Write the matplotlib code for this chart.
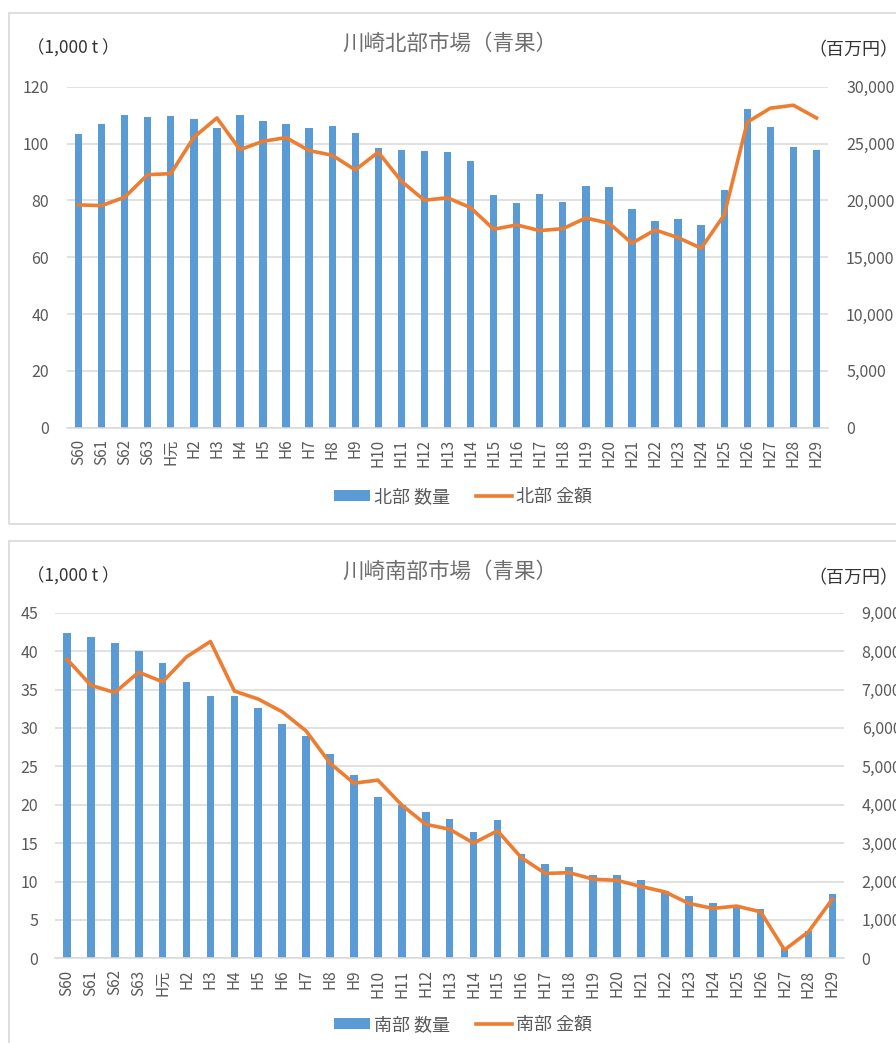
import matplotlib
matplotlib.use("Agg")
import matplotlib.pyplot as plt
from matplotlib.patches import Rectangle
from matplotlib.ticker import FuncFormatter

plt.rcParams['font.family'] = ['Noto Sans CJK JP', 'DejaVu Sans']

years = ["S60", "S61", "S62", "S63", "H元"] + [f"H{i}" for i in range(2, 30)]

# 北部 (north) market
north_qty = [103.3, 106.8, 110.0, 109.2, 109.8, 108.6, 105.4, 110.0, 108.0, 106.8,
             105.4, 106.0, 103.7, 98.4, 97.6, 97.3, 97.0, 93.8, 81.9, 79.0,
             82.2, 79.6, 85.1, 84.8, 76.9, 72.7, 73.5, 71.2, 83.6, 112.1,
             105.7, 98.7, 97.6]
north_amt = [19600, 19540, 20280, 22260, 22350, 25550, 27250, 24460, 25200, 25520,
             24380, 23970, 22680, 24240, 21680, 20010, 20230, 19360, 17460, 17840,
             17340, 17510, 18450, 17990, 16230, 17400, 16720, 15790, 18720, 26880,
             28110, 28370, 27250]

# 南部 (south) market
south_qty = [42.4, 41.8, 41.1, 40.0, 38.4, 36.0, 34.2, 34.2, 32.6, 30.5,
             28.9, 26.6, 23.9, 21.0, 20.0, 19.05, 18.2, 16.5, 18.0, 13.6,
             12.3, 11.85, 10.8, 10.8, 10.2, 8.8, 8.1, 7.25, 6.8, 6.4,
             1.3, 3.5, 8.4]
south_amt = [7790, 7110, 6920, 7450, 7200, 7850, 8250, 6960, 6750, 6420,
             5920, 5080, 4560, 4640, 3990, 3490, 3360, 3000, 3320, 2620,
             2210, 2230, 2060, 2030, 1870, 1730, 1430, 1300, 1360, 1210,
             220, 690, 1540]

BAR = '#5B9BD5'
LINE = '#ED7D31'
GRID = '#D9D9D9'
TXT = '#595959'

W, H = 896, 1043
fig = plt.figure(figsize=(W / 100, H / 100), dpi=100)


def fx(px):
    return px / W


def fy(py):
    return 1 - py / H


# chart borders
for top, bot in [(12.7, 524.3), (541.3, 1060)]:
    fig.patches.append(Rectangle((fx(8.7), fy(bot)), fx(900) - fx(8.7), fy(top) - fy(bot),
                                 transform=fig.transFigure, fill=False,
                                 edgecolor='#D9D9D9', linewidth=1.2))


def draw(box, qty, amt, ymax, ystep, rmax, rstep, title, rname, title_y,
         lab_pad, rpad, leg_y):
    l, r, t, b = box
    ax = fig.add_axes([fx(l), fy(b), fx(r) - fx(l), fy(t) - fy(b)])
    x = range(len(years))
    bars = ax.bar(x, qty, width=0.32, color=BAR, zorder=2, label=f"{rname} 数量")
    ax.set_xlim(-0.5, len(years) - 0.5)
    ax.set_ylim(0, ymax)
    ax.set_yticks(range(0, ymax + 1, ystep))
    ax.grid(axis='y', color=GRID, linewidth=1.1, zorder=0)
    ax.set_axisbelow(True)
    for s in ['top', 'right', 'left']:
        ax.spines[s].set_visible(False)
    ax.spines['bottom'].set_color(GRID)
    ax.spines['bottom'].set_linewidth(1.1)
    ax.set_xticks(list(x))
    ax.set_xticklabels(years, rotation=90)
    ax.tick_params(axis='x', length=0, pad=8, labelsize=11, labelcolor=TXT)
    ax.tick_params(axis='y', length=0, pad=lab_pad, labelsize=11.5, labelcolor=TXT)

    ax2 = ax.twinx()
    ln, = ax2.plot(x, amt, color=LINE, linewidth=2.6, solid_joinstyle='round',
                   zorder=3, label=f"{rname} 金額")
    ax2.set_ylim(0, rmax)
    ax2.set_yticks(range(0, rmax + 1, rstep))
    ax2.yaxis.set_major_formatter(FuncFormatter(lambda v, p: f"{int(v):,}"))
    ax2.tick_params(axis='y', length=0, pad=rpad, labelsize=11.5, labelcolor=TXT)
    for s in ax2.spines.values():
        s.set_visible(False)

    fig.text(fx(450), fy(title_y), title, ha='center', va='center', fontsize=15.5,
             color='#6E6E6E')
    fig.text(fx(27), fy(title_y + 5), "（1,000 t ）", ha='left', va='center', fontsize=12.5,
             color='#333333')
    fig.text(fx(808), fy(title_y + 6), "（百万円）", ha='left', va='center', fontsize=13,
             color='#333333')
    fig.legend([bars, ln], [bars.get_label(), ln.get_label()], loc='center',
               bbox_to_anchor=(fx(463), fy(leg_y)), ncol=2, frameon=False,
               fontsize=13, labelcolor=TXT, handlelength=2.0, handleheight=0.55,
               handletextpad=0.25, columnspacing=1.4)
    return ax


draw((67, 828, 86.7, 427.7), north_qty, north_amt, 120, 20, 30000, 5000,
     "川崎北部市場（青果）", "北部", 44, 13, 13, 497)
draw((55, 844.3, 612.7, 958.3), south_qty, south_amt, 45, 5, 9000, 1000,
     "川崎南部市場（青果）", "南部", 572, 12, 12.5, 1025)

fig.savefig("out.png", dpi=100, facecolor='white')
